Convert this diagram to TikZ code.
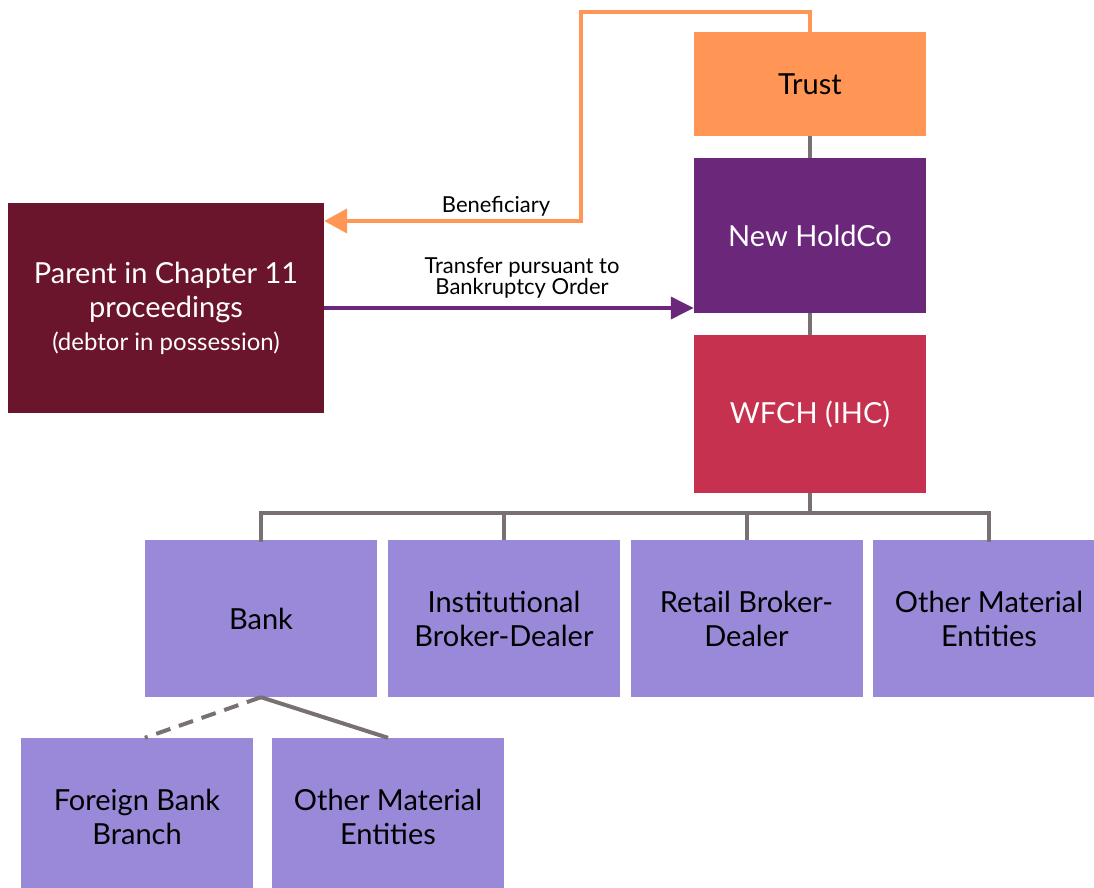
\documentclass[tikz,border=0pt]{standalone}
\usepackage{fontspec}
\setmainfont{Lato}
\usetikzlibrary{arrows.meta,calc}
\definecolor{trustc}{HTML}{FF9655}
\definecolor{holdc}{HTML}{6B287B}
\definecolor{wfchc}{HTML}{C5314F}
\definecolor{parentc}{HTML}{6B152C}
\definecolor{lav}{HTML}{9A89D8}
\definecolor{linec}{HTML}{797171}
\begin{document}
\begin{tikzpicture}[x=1pt,y=-1pt,
  box/.style={rectangle,inner sep=0pt,align=center,minimum width=232pt,font=\fontsize{29}{34}\selectfont},
  lbox/.style={box,fill=lav,text=black,minimum height=157pt},
  conn/.style={draw=linec,line width=4pt},
  lab/.style={font=\fontsize{22}{20.5}\selectfont,align=center,inner sep=0pt}]
\useasboundingbox (0,0) rectangle (1094,888);
\node[box,fill=trustc,text=black,minimum height=104pt] (trust) at (810,84) {Trust};
\node[box,fill=holdc,text=white,minimum height=155pt] (hold) at (810,235.5) {New HoldCo};
\node[box,fill=wfchc,text=white,minimum height=158pt] (wfch) at (810,414) {WFCH (IHC)};
\node[box,fill=parentc,text=white,minimum width=316pt,minimum height=210pt] (parent) at (166,308)
  {Parent in Chapter 11\\proceedings\\[-1pt]{\fontsize{24}{30}\selectfont(debtor in possession)}};
\node[lbox] (bank) at (261,618.5) {Bank};
\node[lbox] (inst) at (504,618.5) {Institutional\\Broker-Dealer};
\node[lbox] (retail) at (746.5,618.5) {Retail Broker-\\Dealer};
\node[lbox] (other) at (989,618.5) {Other Material\\Entities};
\node[lbox] (fbb) at (137,816.5) {Foreign Bank\\Branch};
\node[lbox] (ome) at (388,816.5) {Other Material\\Entities};
% vertical chain
\draw[conn] (trust.south) -- (hold.north);
\draw[conn] (hold.south) -- (wfch.north);
% bus
\coordinate (bus) at (810,513);
\draw[conn] (wfch.south) -- (bus);
\draw[conn,line cap=rect] (bank.north) |- (bus);
\draw[conn,line cap=rect] (other.north) |- (bus);
\draw[conn] (inst.north) -- (inst.north |- bus);
\draw[conn] (retail.north) -- (retail.north |- bus);
% bank children
\draw[conn,dash pattern=on 15pt off 9pt] (bank.south) -- (bank.south west |- fbb.north);
\draw[conn] (bank.south) -- (ome.north);
% beneficiary
\coordinate (bt) at (810,12);
\coordinate (bc) at (581,221);
\draw[draw=trustc,line width=4pt,-{Triangle[length=23pt,width=24pt]}]
  (trust.north) -- (bt) -| (bc) -- (bc -| parent.east);
\node[lab] (benlab) at (496,206) {Beneficiary};
% transfer
\draw[draw=holdc,line width=3.5pt,-{Triangle[length=23pt,width=22pt]}]
  (parent.east |- 0,308) -- (hold.west |- 0,308);
\node[lab] (translab) at (522,278) {Transfer pursuant to\\Bankruptcy Order};
\end{tikzpicture}
\end{document}
